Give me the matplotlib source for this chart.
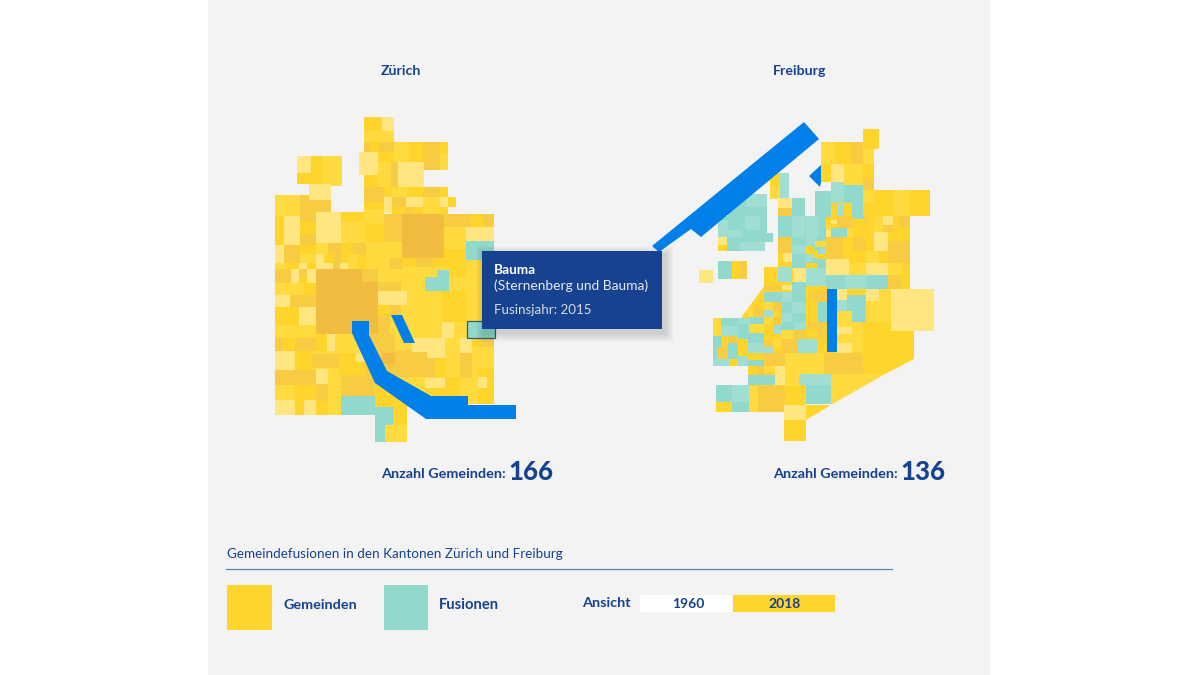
import matplotlib
matplotlib.use("Agg")
import matplotlib.pyplot as plt
from matplotlib.patches import Rectangle, Polygon

plt.rcParams["font.family"] = ["Lato", "DejaVu Sans"]

NAVY = "#16428f"
SHADES = {"a": "#ffd52b", "b": "#ffdb40", "c": "#ffe680", "d": "#f7cb42", "e": "#f2bc40",
          "t": "#90d9cc", "s": "#a0ddd2"}

cantons = ["Zürich", "Freiburg"]
counts = [166, 136]
legend_labels = ["Gemeinden", "Fusionen"]
years = ["1960", "2018"]

# tiles of the cartogram as (left, top, right, bottom), one list per shade
zh_base = [(275, 214, 494, 404), (275, 404, 375, 415)]
zh_a = [(364,117,382,131),(370,142,379,152),(409,142,423,162),(440,142,448,154),(378,152,394,162),
        (364,175,378,187),(384,187,392,197),(407,187,423,197),(440,187,448,197),(448,197,456,207),
        (364,202,384,209),(392,207,406,214),(413,207,423,214),(440,207,448,214),(311,156,322,173),
        (297,173,322,184),(275,216,284,245),(300,222,316,234),(341,212,364,222),(366,224,384,242),
        (471,214,483,227),(300,245,316,254),(341,243,353,254),(324,254,333,263),(341,254,348,262),
        (357,254,366,269),(402,258,415,267),(432,258,444,267),(444,249,466,267),(287,263,299,269),
        (307,263,316,269),(299,278,307,283),(304,283,316,295),(275,307,299,325),(283,338,295,351),
        (316,334,327,351),(295,351,312,370),(339,353,355,375),(295,385,316,400),(295,400,304,415),
        (316,401,328,415),(393,407,407,425),(375,383,408,407),(378,305,390,314),(442,291,467,322),
        (449,267,466,277),(472,338,482,347),(435,358,445,377),(445,377,460,396),(425,388,445,396),
        (478,368,494,377),(487,377,494,404),(478,388,487,404),(355,362,375,375)]
zh_b = [(364,131,394,142),(394,142,409,162),(378,162,391,175),(378,175,391,187),(392,187,407,197),
        (423,197,440,207),(364,209,384,224),(423,207,440,214),(322,156,342,186),(275,195,300,216),
        (341,222,366,243),(444,227,466,249),(366,242,402,258),(300,254,316,263),(316,243,328,254),
        (348,254,357,269),(366,258,390,269),(275,263,287,269),(390,267,437,283),(275,283,304,295),
        (275,325,316,338),(335,334,352,353),(328,375,341,415),(385,425,407,442),(401,291,442,337),
        (390,315,401,343),(454,322,467,338),(445,338,460,377),(472,347,494,368),(466,260,482,321),
        (387,377,425,396),(460,378,478,396),(440,154,448,170)]
zh_c = [(382,117,394,131),(359,152,378,175),(398,162,424,187),(384,197,392,213),(406,197,423,207),
        (440,197,448,207),(297,156,311,173),(309,184,331,200),(284,216,300,245),(316,212,341,243),
        (466,227,494,241),(275,245,284,263),(316,254,324,263),(299,263,307,269),(316,263,333,269),
        (340,263,348,269),(291,269,299,283),(307,269,316,283),(275,295,290,307),(299,307,316,325),
        (327,334,335,351),(275,351,295,370),(316,369,328,384),(275,400,295,415),(304,400,316,415),
        (378,291,407,305),(442,322,454,338),(412,338,427,352),(427,338,445,358),(460,338,472,353),
        (356,353,365,362),(425,378,445,388),(478,377,487,388)]
zh_d = [(423,142,440,170),(364,142,370,152),(379,142,394,152),(391,162,398,187),(364,187,384,202),
        (423,187,440,197),(392,197,406,207),(406,207,413,214),(300,195,316,222),(316,200,331,212),
        (300,234,316,245),(384,214,402,242),(444,214,471,227),(483,214,494,227),(284,245,300,263),
        (328,243,341,254),(353,243,366,254),(333,254,341,269),(390,258,402,269),(415,258,432,267),
        (275,269,291,283),(299,269,307,278),(362,269,378,282),(290,295,316,307),(275,338,283,351),
        (295,338,316,351),(312,354,339,368),(275,370,295,385),(295,370,316,385),(316,384,328,401),
        (341,375,375,396),(378,282,401,291),(390,305,401,315),(378,314,390,334),(482,338,494,347),
        (369,334,395,352),(395,350,435,377),(365,352,395,377),(460,353,472,378)]
zh_e = [(402,214,444,258),(316,269,362,282),(316,282,378,334),(382,353,395,364)]
zh_t = [(466,241,494,260),(341,396,375,415),(375,407,393,425),(375,425,385,442),(425,277,449,291),
        (437,270,449,277)]
zh_s = []
zh_selected = (467, 321, 495, 338)

fr_base = [(764,267,863,353),(748,353,806,386),(826,203,874,290),(874,216,910,289)]
fr_base_teal = [(792,216,826,268),(740,194,767,233),(718,216,767,237),(727,237,765,251)]
fr_a = [(863,129,879,149),(835,142,851,164),(821,164,831,182),(863,164,874,179),(874,190,893,216),
        (910,190,930,216),(863,203,874,216),(831,203,837,216),(844,203,852,216),(770,173,780,186),
        (778,253,783,262),(778,262,792,267),(806,246,813,254),(813,250,818,258),(806,263,817,268),(853,219,874,237),
        (893,216,899,227),(893,227,910,241),(843,237,853,251),(866,237,874,251),(843,251,866,263),
        (879,251,888,263),(901,263,910,290),(732,261,740,279),(718,245,727,251),(806,286,827,295),
        (807,302,818,322),(806,329,818,339),(817,339,826,353),(785,386,806,405),(784,420,806,441),
        (716,402,732,412),(722,336,728,347),(738,339,748,356),(729,359,738,366),(764,325,773,333),
        (773,347,781,353),(773,310,781,317),(753,302,764,308),(748,366,757,375),(757,353,764,360),
        (863,322,914,340),(847,289,866,295),(818,254,826,259)]
fr_b = [(821,142,835,164),(863,149,874,164),(844,164,863,185),(863,190,874,203),(893,190,910,216),
        (770,186,780,199),(826,224,831,230),(847,228,853,237),(874,216,883,242),(866,251,879,263),
        (849,263,866,275),(888,263,901,275),(866,301,879,322),(879,289,891,322),(837,311,852,327),
        (852,322,863,352),(837,334,852,343),(785,353,824,374),(764,366,775,373),(785,374,799,386),
        (749,386,758,412),(713,318,721,336),(749,324,764,333),(764,302,773,310),(764,317,773,325),
        (781,330,794,339),(773,339,781,347),(815,241,826,247),(748,308,753,317)]
fr_c = [(831,164,844,182),(778,198,792,208),(783,253,792,262),(883,216,893,225),(874,232,888,251),
        (826,259,849,275),(866,263,888,275),(718,237,727,245),(699,270,713,283),(793,268,806,282),
        (782,285,792,290),(837,289,847,300),(866,289,879,301),(891,289,934,331),(837,327,852,334),
        (837,343,852,353),(775,366,785,385),(784,405,806,420),(831,220,837,224),(826,230,831,237)]
fr_d = [(851,142,863,164),(863,179,874,190),(863,215,868,223),(778,208,792,216),(778,237,792,253),
        (837,216,853,228),(883,225,893,232),(899,216,910,227),(888,241,910,263),(826,237,843,259),
        (853,237,866,251),(740,261,747,279),(888,275,901,289),(764,285,782,290),(812,290,827,302),
        (807,322,826,329),(794,330,806,339),(818,329,826,339),(781,339,797,353),(824,353,863,374),
        (764,353,785,366),(758,386,785,412),(728,336,738,343),(717,347,728,359),(764,340,773,347),
        (753,308,764,317),(773,302,782,310),(773,317,782,325),(757,366,764,375)]
fr_t = [(844,185,863,210),(815,191,831,217),(792,198,805,216),(852,210,863,219),(778,216,792,237),
        (792,237,806,245),(792,254,806,267),(831,228,847,237),(718,261,732,279),(728,216,745,230),
        (760,216,767,233),(746,207,767,216),(742,233,773,242),(727,237,740,251),(826,275,845,289),
        (866,275,888,289),(764,292,782,302),(792,282,806,302),(818,302,827,322),(847,295,866,322),
        (806,385,831,404),(716,385,732,402),(732,402,749,412),(748,375,775,385),(721,318,738,326),
        (750,317,764,324),(738,324,749,339),(713,336,722,348),(748,333,764,343),(728,343,738,359),
        (713,348,717,359),(748,360,764,366),(781,302,792,313),(792,313,806,322),(781,322,794,330),
        (728,200,746,216),(817,258,826,268)]
fr_s = [(831,182,844,203),(780,173,789,198),(838,204,844,216),(792,216,805,237),(806,216,818,237),
        (792,245,806,254),(806,237,815,245),(806,254,813,262),(746,194,767,207),(718,220,728,237),
        (745,216,760,230),(718,230,742,237),(740,242,765,251),(778,267,792,282),(806,268,826,286),
        (845,275,866,289),(782,292,792,302),(837,300,847,312),(799,374,831,385),(732,385,749,402),
        (738,318,750,324),(721,326,738,336),(713,359,729,366),(738,356,748,366),(748,343,764,353),
        (764,347,773,353),(764,310,773,317),(773,325,781,334),(792,302,806,313),(781,313,792,322),
        (794,322,806,330),(797,339,817,353),(820,247,826,254)]
fr_right_a = [(863,322),(914,322),(914,359),(885,374),(863,374)]
fr_right_b = [(831,374),(885,374),(831,405)]
fr_low_a = [(806,405),(831,405),(806,420)]
fr_left_a = [(778,267),(741,318),(778,318)]

# lake and river outlines
zh_lake = [(352,321),(369,321),(369,335),(387,371),(431,396),(468,396),(468,405),(516,405),(516,419),(426,419),(375,383),(352,333)]
zh_lake_small = [(391,315),(402,315),(415,343),(404,343)]
fr_lake = [(804,122),(819,139),(701,237),(691,229),(659,252),(652,246)]
fr_lake_small = [(809,176),(821,165),(821,182),(820,187)]
fr_lake_bar = [(827,289),(837,289),(837,352),(827,352)]
BLUE = "#0080e8"

fig = plt.figure(figsize=(12, 6.75), dpi=100, facecolor="white")
ax = fig.add_axes([0, 0, 1, 1])
ax.set_xlim(0, 1200)
ax.set_ylim(675, 0)
ax.axis("off")


def box(x0, y0, x1, y1, color, z=2, **kw):
    ax.add_patch(Rectangle((x0, y0), x1 - x0, y1 - y0, facecolor=color, edgecolor="none", linewidth=0, zorder=z, **kw))


def tiles(rows, shade):
    for x0, y0, x1, y1 in rows:
        box(x0, y0, x1, y1, SHADES[shade])


def shape(points, color, z=2):
    ax.add_patch(Polygon(points, closed=True, facecolor=color, edgecolor="none", zorder=z))


box(208, 0, 990, 675, "#f3f3f3", z=0)

# Zurich
for r in zh_base:
    box(*r, SHADES["b"], z=1)
for rows, k in [(zh_a, "a"), (zh_b, "b"), (zh_d, "d"), (zh_e, "e"), (zh_c, "c"), (zh_t, "t"), (zh_s, "s")]:
    tiles(rows, k)

# Freiburg
for r in fr_base:
    box(*r, SHADES["a"], z=1)
for r in fr_base_teal:
    box(*r, SHADES["t"], z=1)
shape(fr_right_a, SHADES["a"], 1)
shape(fr_right_b, SHADES["b"], 1)
shape(fr_low_a, SHADES["a"], 1)
shape(fr_left_a, SHADES["a"], 1)
for rows, k in [(fr_t, "t"), (fr_s, "s"), (fr_a, "a"), (fr_b, "b"), (fr_d, "d"), (fr_c, "c")]:
    tiles(rows, k)

for pts in [zh_lake, zh_lake_small, fr_lake, fr_lake_small, fr_lake_bar]:
    shape(pts, BLUE, z=3)

# selected municipality
ax.add_patch(Rectangle((zh_selected[0], zh_selected[1]), zh_selected[2] - zh_selected[0],
                       zh_selected[3] - zh_selected[1], facecolor=SHADES["t"], edgecolor="#2a5f7f", linewidth=0.9, zorder=4))

# tooltip with a soft shadow
for grow in range(9, 0, -1):
    ax.add_patch(Rectangle((482 + 3 - grow, 251 + 4 - grow), 180 + 2 * grow, 78 + 2 * grow,
                           facecolor="black", edgecolor="none", alpha=0.015, zorder=5))
box(482, 251, 662, 329, NAVY, z=6)
ax.text(494, 269.5, "Bauma", color="white", fontsize=9.8, fontweight="bold", va="center", zorder=7)
ax.text(494, 286, "(Sternenberg und Bauma)", color="#e6ebf4", fontsize=9.95, va="center", zorder=7)
ax.text(494, 310, "Fusinsjahr: 2015", color="#d5dcea", fontsize=9.65, va="center", zorder=7)

# titles and counts
for name, count, x in zip(cantons, counts, [381, 773]):
    ax.text(x, 71, name, color=NAVY, fontsize=10.2, fontweight="bold", va="center")
    ax.text(x, 474.5, "Anzahl Gemeinden:", color=NAVY, fontsize=10.4, fontweight="bold", va="center")
    ax.text(x + 127, 471.5, str(count), color=NAVY, fontsize=18.6, fontweight="black", va="center")

# legend
ax.text(227, 554.5, "Gemeindefusionen in den Kantonen Zürich und Freiburg", color=NAVY, fontsize=9.75, va="center")
ax.plot([226, 892], [568.5, 568.5], color="#5b84bf", lw=0.9)
box(227, 585, 272, 630, SHADES["a"])
box(384, 585, 428, 630, SHADES["t"])
ax.text(284, 605, legend_labels[0], color=NAVY, fontsize=10.4, fontweight="bold", va="center")
ax.text(439, 605, legend_labels[1], color=NAVY, fontsize=10.6, fontweight="bold", va="center")
ax.text(582, 603, "Ansicht", color=NAVY, fontsize=10.4, fontweight="bold", va="center")
box(640, 595, 732, 612, "white")
box(733, 595, 835, 612, SHADES["a"])
ax.text(688, 604, years[0], color=NAVY, fontsize=10, fontweight="bold", ha="center", va="center")
ax.text(785, 604, years[1], color=NAVY, fontsize=10, fontweight="bold", ha="center", va="center")

fig.savefig("out.png", dpi=100)
